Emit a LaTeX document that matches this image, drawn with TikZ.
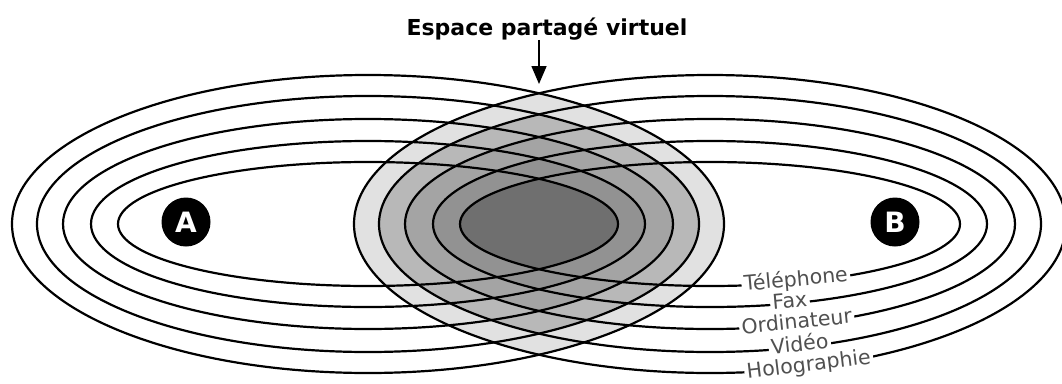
\documentclass[tikz,border=0pt]{standalone}
\usepackage{fontspec}
\setmainfont{DejaVu Sans}
\usetikzlibrary{arrows.meta}
\definecolor{shadeone}{RGB}{225,225,225}
\definecolor{shadetwo}{RGB}{184,184,184}
\definecolor{shadethree}{RGB}{164,164,164}
\definecolor{shadefour}{RGB}{146,146,146}
\definecolor{shadefive}{RGB}{111,111,111}
\definecolor{labelgray}{RGB}{80,80,80}
\begin{document}
\begin{tikzpicture}[x=1pt,y=-1pt,
  curve/.style={line width=2.2pt, black},
  medium/.style={label font, text=labelgray, fill=white, anchor=base,
     text height=9pt, text depth=0pt, inner ysep=0pt, inner xsep=2.5pt},
  label font/.style={font=\fontsize{20.5}{23}\selectfont},
  station/.style={circle, fill=black, minimum size=49pt, inner sep=0pt,
     text=white, font=\fontsize{28}{28}\selectfont\bfseries},
  pointer/.style={line width=1.6pt, -{Triangle[length=18pt,width=15pt]}}]
\useasboundingbox (0,0) rectangle (1062,383);
% shaded intersections
\foreach \ra/\rb/\col in {356/149/shadeone, 331/128/shadetwo, 305/105/shadethree, 277/83/shadefour, 250/62/shadefive}{
  \begin{scope}
    \clip (368,224) ellipse [x radius=\ra, y radius=\rb];
    \fill[\col] (710,224) ellipse [x radius=\ra, y radius=\rb];
  \end{scope}
}
% outlines
\foreach \ra/\rb in {356/149, 331/128, 305/105, 277/83, 250/62}{
  \draw[curve] (368,224) ellipse [x radius=\ra, y radius=\rb];
  \draw[curve] (710,224) ellipse [x radius=\ra, y radius=\rb];
}
% end points
\node[station] (A) at (186,222) {A};
\node[station] (B) at (895,222) {B};
% labels
\node[medium, rotate=5.2] (tel) at (796.4,286.2) {Téléphone};
\node[medium, rotate=5.2] (fax) at (790.4,307.5) {Fax};
\node[medium, rotate=5.85] (ord) at (797.4,328.6) {Ordinateur};
\node[medium, rotate=6.2] (vid) at (800.4,351.2) {Vidéo};
\node[medium, rotate=6.9] (holo) at (809.5,371.1) {Holographie};
% title
\node[font=\fontsize{22}{26}\selectfont\bfseries, anchor=base, inner sep=0pt] (title) at (547,35) {Espace partagé virtuel};
\coordinate (tip) at (539,84);
\draw[pointer] (title.south -| tip) -- (tip);
\end{tikzpicture}
\end{document}
